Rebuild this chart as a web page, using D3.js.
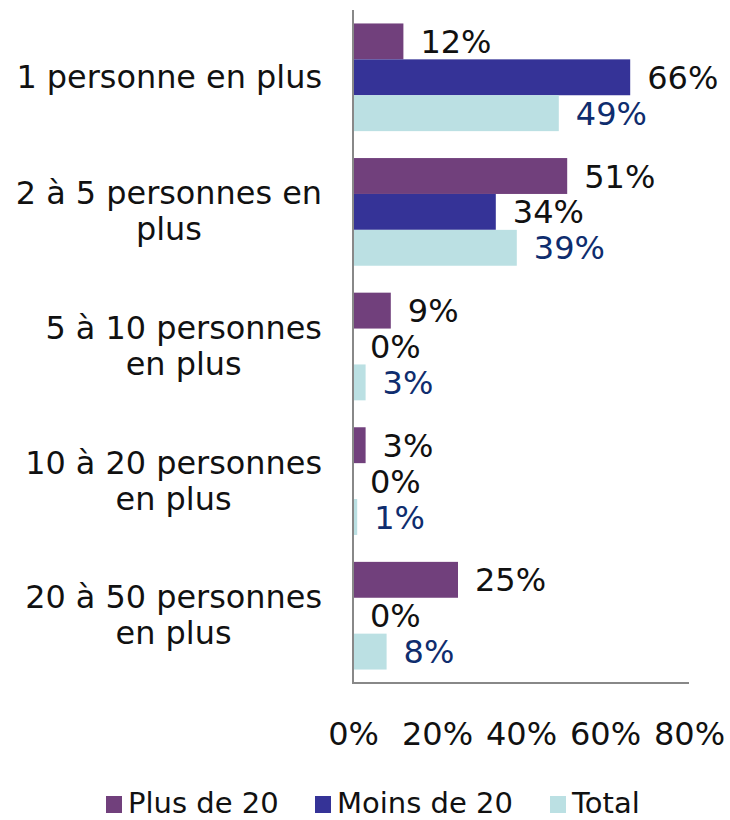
<!DOCTYPE html>
<html>
<head>
<meta charset="utf-8">
<script src="https://cdnjs.cloudflare.com/ajax/libs/d3/7.8.5/d3.min.js"></script>
<style>
  html, body { margin: 0; padding: 0; background: #fff; }
  svg text { font-family: "DejaVu Sans", Verdana, sans-serif; }
</style>
</head>
<body>
<svg id="chart" width="730" height="820"></svg>
<script>
// Group labels (line breaks marked with \n)
const categories = [
  "1 personne en plus",
  "2 à 5 personnes en\nplus",
  "5 à 10 personnes\nen plus",
  "10 à 20 personnes\nen plus",
  "20 à 50 personnes\nen plus"
];
const seriesNames = ["Plus de 20", "Moins de 20", "Total"];
const plusDe20   = [12, 51, 9, 3, 25];
const moinsDe20  = [66, 34, 0, 0, 0];
const total      = [49, 39, 3, 1, 8];
const tickValues = [0, 20, 40, 60, 80];

const colors = ["#71407c", "#353397", "#bbe0e3"];
const labelColors = ["#111111", "#111111", "#0f2d6e"];
const seriesValues = [plusDe20, moinsDe20, total];

const svg = d3.select("#chart");

const x = d3.scaleLinear().domain([0, 80]).range([353, 689]);
const y = d3.scaleBand().domain(categories).range([10, 683])
  .paddingInner(0.2).paddingOuter(0.1);
const ys = d3.scaleBand().domain(seriesNames).range([0, y.bandwidth()]);

// Bars and value labels
const groups = svg.selectAll("g.grp").data(categories).join("g")
  .attr("class", "grp")
  .attr("transform", c => `translate(0,${y(c)})`);

seriesNames.forEach((s, si) => {
  groups.append("rect")
    .attr("x", x(0))
    .attr("y", ys(s))
    .attr("width", (c, ci) => x(seriesValues[si][ci]) - x(0))
    .attr("height", ys.bandwidth())
    .attr("fill", colors[si]);
  groups.append("text")
    .attr("x", (c, ci) => x(seriesValues[si][ci]) + 17)
    .attr("y", ys(s) + ys.bandwidth() / 2)
    .attr("dy", "0.36em")
    .attr("font-size", 32)
    .attr("fill", labelColors[si])
    .text((c, ci) => seriesValues[si][ci] + "%");
});

// Category labels: block right-aligned, lines centered within the block
const lineH = 36;
categories.forEach(c => {
  const lines = c.split("\n");
  const g = svg.append("g");
  const cy = y(c) + y.bandwidth() / 2;
  const texts = lines.map((ln, i) => g.append("text")
    .attr("font-size", 31.9)
    .attr("fill", "#111")
    .attr("text-anchor", "middle")
    .attr("y", cy + (i - (lines.length - 1) / 2) * lineH - 1)
    .attr("dy", "0.36em")
    .text(ln));
  const maxW = d3.max(texts, t => t.node().getComputedTextLength());
  texts.forEach(t => t.attr("x", 322 - maxW / 2));
});

// Axes
const xAxis = d3.axisBottom(x).tickValues(tickValues)
  .tickFormat(d => d + "%").tickSize(0).tickPadding(0);
const ax = svg.append("g").attr("transform", "translate(0,683)").call(xAxis);
ax.select(".domain").attr("stroke", "#888").attr("stroke-width", 2)
  .attr("d", `M${x(0)},0H${x(80)}`);
ax.selectAll(".tick text")
  .attr("font-size", 32).attr("fill", "#111")
  .attr("font-family", "DejaVu Sans, Verdana, sans-serif")
  .attr("y", 62).attr("dy", 0);

const yAxis = d3.axisLeft(y).tickSize(0).tickFormat("");
const ay = svg.append("g").attr("transform", `translate(${x(0)},0)`).call(yAxis);
ay.select(".domain").attr("stroke", "#888").attr("stroke-width", 2)
  .attr("d", "M0,10V684");

// Legend
const legendX = [106, 315, 550];
const lg = svg.append("g");
seriesNames.forEach((s, i) => {
  lg.append("rect").attr("x", legendX[i]).attr("y", 796)
    .attr("width", 16).attr("height", 17).attr("fill", colors[i]);
  lg.append("text").attr("x", legendX[i] + 22).attr("y", 813)
    .attr("font-size", 29).attr("fill", "#111").text(s);
});
</script>
</body>
</html>
